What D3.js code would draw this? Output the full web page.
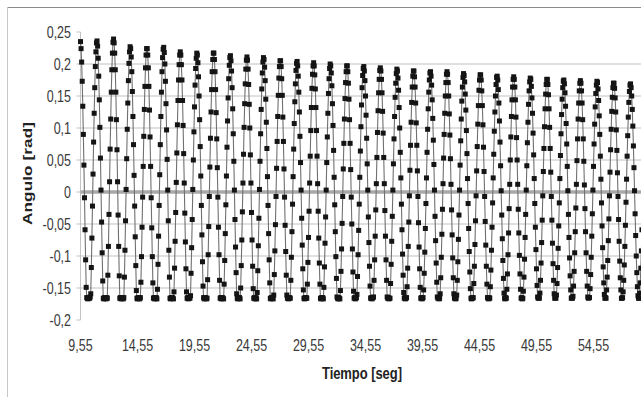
<!DOCTYPE html>
<html><head><meta charset="utf-8">
<script src="https://cdn.jsdelivr.net/npm/d3@7"></script>
<style>html,body{margin:0;padding:0;background:#fff;} svg{display:block;}</style>
</head><body>
<svg id="c" width="641" height="397"></svg>
<script>
// time of first sample and sampling step (seconds)
const t0 = 9.55, dt = 0.05;
// Angulo [rad], one value per sample
const angulo = [
0.235,0.224,0.203,0.173,0.134,0.090,0.042,-0.009,-0.059,-0.106,-0.149,-0.165,-0.166,-0.167,-0.166,
-0.165,-0.166,-0.164,-0.159,-0.118,-0.072,-0.022,0.028,0.078,0.123,0.163,0.196,0.219,0.233,0.236,0.228,0.209,0.181,0.144,0.101,0.053,0.003,-0.047,-0.095,-0.139,-0.166,-0.167,-0.165,-0.166,
-0.166,-0.167,-0.165,-0.166,-0.130,-0.085,-0.035,0.016,0.067,0.114,0.156,0.191,0.217,0.234,0.239,0.233,0.217,0.191,0.156,0.113,0.066,0.016,-0.036,-0.085,-0.131,-0.166,-0.165,-0.167,-0.166,
-0.165,-0.166,-0.167,-0.165,-0.133,-0.091,-0.045,0.004,0.052,0.098,0.139,0.174,0.201,0.219,0.227,0.224,0.211,0.188,0.157,0.118,0.074,0.026,-0.022,-0.070,-0.115,-0.154,-0.166,-0.167,-0.165,
-0.166,-0.166,-0.167,-0.165,-0.141,-0.101,-0.055,-0.008,0.040,0.087,0.129,0.165,0.194,0.214,0.224,0.224,0.214,0.194,0.165,0.128,0.086,0.040,-0.009,-0.056,-0.101,-0.142,-0.166,-0.165,-0.167,-0.166,
-0.166,-0.165,-0.167,-0.152,-0.113,-0.069,-0.021,0.027,0.074,0.118,0.156,0.188,0.210,0.223,0.226,0.218,0.200,0.173,0.138,0.097,0.051,0.003,-0.045,-0.091,-0.133,-0.166,-0.167,-0.165,-0.166,
-0.165,-0.166,-0.167,-0.156,-0.119,-0.077,-0.032,0.015,0.061,0.105,0.143,0.175,0.199,0.214,0.219,0.214,0.199,0.175,0.143,0.104,0.060,0.014,-0.033,-0.078,-0.120,-0.156,-0.166,-0.165,-0.167,
-0.166,-0.165,-0.166,-0.162,-0.127,-0.087,-0.043,0.004,0.050,0.094,0.133,0.167,0.193,0.209,0.217,0.214,0.202,0.180,0.150,0.113,0.071,0.025,-0.021,-0.067,-0.109,-0.147,-0.165,-0.167,-0.166,
-0.166,-0.165,-0.167,-0.166,-0.137,-0.098,-0.054,-0.007,0.039,0.084,0.125,0.160,0.188,0.207,0.217,0.217,0.207,0.188,0.160,0.124,0.083,0.038,-0.008,-0.055,-0.098,-0.138,-0.166,-0.165,-0.167,-0.166,
-0.165,-0.166,-0.167,-0.144,-0.107,-0.065,-0.020,0.025,0.070,0.111,0.147,0.177,0.198,0.210,0.213,0.205,0.189,0.163,0.130,0.091,0.048,0.003,-0.043,-0.086,-0.126,-0.159,-0.166,-0.167,-0.165,
-0.166,-0.165,-0.167,-0.150,-0.115,-0.075,-0.031,0.014,0.059,0.101,0.138,0.169,0.192,0.206,0.211,0.206,0.192,0.168,0.137,0.100,0.058,0.014,-0.032,-0.075,-0.116,-0.151,-0.166,-0.165,-0.167,
-0.166,-0.165,-0.167,-0.157,-0.123,-0.084,-0.041,0.004,0.048,0.091,0.129,0.161,0.186,0.203,0.210,0.207,0.195,0.174,0.145,0.109,0.068,0.024,-0.021,-0.065,-0.106,-0.142,-0.166,-0.167,-0.165,
-0.166,-0.165,-0.167,-0.161,-0.129,-0.092,-0.051,-0.007,0.037,0.079,0.118,0.151,0.178,0.196,0.205,0.205,0.196,0.177,0.151,0.117,0.079,0.036,-0.008,-0.052,-0.093,-0.130,-0.161,-0.166,-0.165,-0.167,
-0.166,-0.165,-0.166,-0.138,-0.102,-0.062,-0.019,0.024,0.067,0.107,0.141,0.169,0.190,0.201,0.204,0.197,0.181,0.156,0.125,0.087,0.046,0.003,-0.041,-0.083,-0.120,-0.153,-0.166,-0.167,-0.165,
-0.166,-0.165,-0.166,-0.144,-0.110,-0.071,-0.030,0.014,0.056,0.096,0.132,0.162,0.184,0.197,0.202,0.197,0.183,0.161,0.132,0.096,0.056,0.013,-0.030,-0.072,-0.111,-0.144,-0.166,-0.167,-0.165,
-0.166,-0.165,-0.167,-0.149,-0.117,-0.080,-0.039,0.003,0.046,0.086,0.123,0.154,0.177,0.193,0.200,0.197,0.186,0.166,0.138,0.104,0.065,0.023,-0.020,-0.062,-0.101,-0.135,-0.164,-0.166,-0.167,
-0.165,-0.166,-0.167,-0.154,-0.124,-0.089,-0.049,-0.007,0.036,0.076,0.114,0.146,0.171,0.188,0.197,0.197,0.188,0.170,0.145,0.113,0.076,0.035,-0.008,-0.050,-0.089,-0.125,-0.155,-0.166,-0.165,
-0.167,-0.166,-0.165,-0.160,-0.132,-0.098,-0.060,-0.019,0.023,0.064,0.102,0.136,0.163,0.182,0.193,0.196,0.189,0.174,0.150,0.120,0.084,0.044,0.003,-0.039,-0.079,-0.116,-0.147,-0.166,-0.165,-0.167,
-0.166,-0.165,-0.164,-0.138,-0.106,-0.069,-0.028,0.013,0.054,0.093,0.127,0.155,0.176,0.190,0.194,0.189,0.176,0.155,0.126,0.092,0.054,0.013,-0.029,-0.069,-0.106,-0.138,-0.164,-0.166,-0.165,
-0.167,-0.166,-0.166,-0.143,-0.113,-0.077,-0.038,0.003,0.044,0.083,0.118,0.148,0.170,0.185,0.192,0.189,0.178,0.159,0.132,0.100,0.062,0.022,-0.019,-0.059,-0.097,-0.130,-0.157,-0.166,-0.165,
-0.167,-0.166,-0.165,-0.148,-0.119,-0.085,-0.047,-0.006,0.034,0.073,0.109,0.140,0.164,0.181,0.189,0.189,0.180,0.164,0.139,0.108,0.073,0.033,-0.007,-0.048,-0.086,-0.120,-0.149,-0.166,-0.165,
-0.167,-0.166,-0.165,-0.153,-0.127,-0.094,-0.057,-0.018,0.022,0.062,0.098,0.130,0.156,0.175,0.186,0.188,0.181,0.167,0.144,0.115,0.081,0.043,0.003,-0.038,-0.076,-0.111,-0.141,-0.164,-0.166,-0.165,
-0.167,-0.166,-0.159,-0.134,-0.102,-0.066,-0.027,0.013,0.053,0.090,0.123,0.150,0.171,0.184,0.188,0.184,0.171,0.150,0.122,0.089,0.052,0.012,-0.028,-0.067,-0.103,-0.134,-0.159,-0.166,-0.165,
-0.167,-0.166,-0.161,-0.138,-0.109,-0.074,-0.036,0.003,0.042,0.080,0.114,0.142,0.164,0.179,0.185,0.182,0.172,0.153,0.128,0.096,0.060,0.021,-0.018,-0.057,-0.093,-0.125,-0.151,-0.166,-0.167,
-0.165,-0.166,-0.165,-0.143,-0.116,-0.082,-0.045,-0.006,0.033,0.071,0.106,0.135,0.159,0.175,0.183,0.183,0.175,0.158,0.135,0.105,0.070,0.032,-0.007,-0.046,-0.083,-0.116,-0.144,-0.165,-0.166,
-0.167,-0.165,-0.166,-0.148,-0.122,-0.091,-0.055,-0.017,0.022,0.059,0.095,0.125,0.150,0.168,0.179,0.181,0.175,0.160,0.139,0.111,0.078,0.041,0.002,-0.036,-0.073,-0.107,-0.135,-0.158,-0.166,-0.167,
-0.165,-0.166,-0.152,-0.128,-0.098,-0.064,-0.026,0.012,0.050,0.086,0.118,0.144,0.164,0.176,0.180,0.176,0.164,0.144,0.117,0.085,0.050,0.012,-0.027,-0.064,-0.099,-0.128,-0.152,-0.166,-0.165,
-0.167,-0.166,-0.155,-0.133,-0.105,-0.071,-0.035,0.003,0.041,0.077,0.109,0.137,0.158,0.172,0.178,0.176,0.165,0.147,0.123,0.092,0.058,0.021,-0.018,-0.055,-0.090,-0.120,-0.146,-0.164,-0.166,
-0.165,-0.166,-0.158,-0.138,-0.111,-0.079,-0.044,-0.006,0.032,0.068,0.102,0.130,0.153,0.168,0.176,0.176,0.168,0.152,0.130,0.101,0.068,0.031,-0.007,-0.044,-0.080,-0.112,-0.138,-0.159,-0.166,
-0.165,-0.166,-0.161,-0.143,-0.118,-0.088,-0.053,-0.017,0.021,0.057,0.091,0.121,0.145,0.163,0.173,0.175,0.169,0.155,0.134,0.107,0.075,0.040,0.002,-0.035,-0.071,-0.103,-0.131,-0.153,-0.166,-0.165,
-0.166,-0.163,-0.147,-0.124,-0.095,-0.062,-0.025,0.012,0.049,0.083,0.114,0.139,0.158,0.170,0.174,0.170,0.158,0.139,0.113,0.083,0.048,0.011,-0.026,-0.062,-0.095,-0.124,-0.147,-0.164,-0.166,
-0.165,-0.165,-0.151,-0.129,-0.102,-0.069,-0.034,0.003,0.040,0.075,0.106,0.133,0.154,0.167,0.173,0.171,0.161,0.143,0.119,0.090,0.056,0.020,-0.017,-0.053,-0.087,-0.117,-0.142,-0.160,-0.166,
-0.165,-0.166,-0.153,-0.133,-0.107,-0.076,-0.042,-0.006,0.031,0.066,0.098,0.126,0.148,0.163,0.170,0.170,0.162,0.147,0.125,0.097,0.065,0.030,-0.007,-0.043,-0.077,-0.108,-0.134,-0.153,-0.166,
-0.166,-0.165,-0.156,-0.138,-0.114,-0.085,-0.052,-0.016,0.020,0.056,0.088,0.117,0.140,0.157,0.167,0.169,0.163,0.150,0.129,0.103,0.072,0.038,0.002,-0.034,-0.068,-0.100,-0.126,-0.148,-0.162,-0.166,
-0.166,-0.158,-0.142,-0.119,-0.092,-0.059
];
const xTickValues = [9.55, 14.55, 19.55, 24.55, 29.55, 34.55, 39.55, 44.55, 49.55, 54.55];
const xTickLabels = ["9,55","14,55","19,55","24,55","29,55","34,55","39,55","44,55","49,55","54,55"];
const yTickValues = [0.25, 0.2, 0.15, 0.1, 0.05, 0, -0.05, -0.1, -0.15, -0.2];
const yTickLabels = ["0,25","0,2","0,15","0,1","0,05","0","-0,05","-0,1","-0,15","-0,2"];
const gridValues = [0.2, 0.15, 0.1, 0.05, -0.05, -0.1, -0.15];
const xTitle = "Tiempo [seg]";
const yTitle = "Angulo [rad]";

const W = 641, H = 397, SY = 1.27;
const FONT = "'Liberation Sans', Arial, sans-serif";
const svg = d3.select("#c");
const x = d3.scaleLinear().domain([9.55, 54.55]).range([80.5, 593.5]);
const y = d3.scaleLinear().domain([-0.2, 0.25]).range([320, 32]);
const x0 = x(9.55);

// chart border (top and left visible)
svg.append("line").attr("x1", 7).attr("x2", W).attr("y1", 7.5).attr("y2", 7.5)
  .attr("stroke", "#8a8a8a").attr("stroke-width", 1);
svg.append("line").attr("x1", 7.5).attr("x2", 7.5).attr("y1", 7).attr("y2", H)
  .attr("stroke", "#c8c8c8").attr("stroke-width", 1);

// gridlines
svg.append("g").selectAll("line").data(gridValues).join("line")
  .attr("x1", x0).attr("x2", W).attr("y1", d => y(d)).attr("y2", d => y(d))
  .attr("stroke", "#d6d6d6").attr("stroke-width", 1.5);

// y axis line and ticks
svg.append("line").attr("x1", x0).attr("x2", x0).attr("y1", y(0.25)).attr("y2", y(-0.2))
  .attr("stroke", "#c4c4c4").attr("stroke-width", 1);
svg.append("g").selectAll("line").data(yTickValues).join("line")
  .attr("x1", x0 - 4).attr("x2", x0).attr("y1", d => y(d)).attr("y2", d => y(d))
  .attr("stroke", "#c4c4c4").attr("stroke-width", 1);

// zero (x axis) line
svg.append("line").attr("x1", x0).attr("x2", W).attr("y1", y(0)).attr("y2", y(0))
  .attr("stroke", "#a8a8a8").attr("stroke-width", 3.5);

// y tick labels
svg.append("g").selectAll("text").data(yTickValues).join("text")
  .attr("transform", d => `translate(71,${y(d)}) scale(1,${SY})`)
  .attr("dy", "0.36em").attr("text-anchor", "end")
  .attr("font-family", FONT).attr("font-size", 12.5).attr("fill", "#3a3a3a")
  .text((d, i) => yTickLabels[i]);

// x tick labels
svg.append("g").selectAll("text").data(xTickValues).join("text")
  .attr("transform", d => `translate(${x(d)},351) scale(1,${SY})`)
  .attr("text-anchor", "middle")
  .attr("font-family", FONT).attr("font-size", 12.5).attr("fill", "#3a3a3a")
  .text((d, i) => xTickLabels[i]);

// axis titles
svg.append("text").attr("transform", `translate(362,379) scale(1,${SY})`)
  .attr("text-anchor", "middle").attr("font-family", FONT).attr("font-weight", "bold")
  .attr("font-size", 13).attr("fill", "#222")
  .attr("textLength", 80).attr("lengthAdjust", "spacing").text(xTitle);
svg.append("text").attr("transform", `translate(32,173.5) rotate(-90) scale(${SY},1)`)
  .attr("text-anchor", "middle").attr("font-family", FONT).attr("font-weight", "bold")
  .attr("font-size", 13.5).attr("fill", "#222")
  .attr("textLength", 81).attr("lengthAdjust", "spacing").text(yTitle);

// data
const pts = angulo.map((v, i) => ({ t: t0 + i * dt, v }));
svg.append("path").datum(pts)
  .attr("d", d3.line().x(d => x(d.t)).y(d => y(d.v)))
  .attr("fill", "none").attr("stroke", "#707070").attr("stroke-width", 1.1);
svg.append("g").selectAll("rect").data(pts).join("rect")
  .attr("x", d => x(d.t) - 2.5).attr("y", d => y(d.v) - 2.5)
  .attr("width", 5).attr("height", 5).attr("fill", "#141414");
</script>
</body></html>
